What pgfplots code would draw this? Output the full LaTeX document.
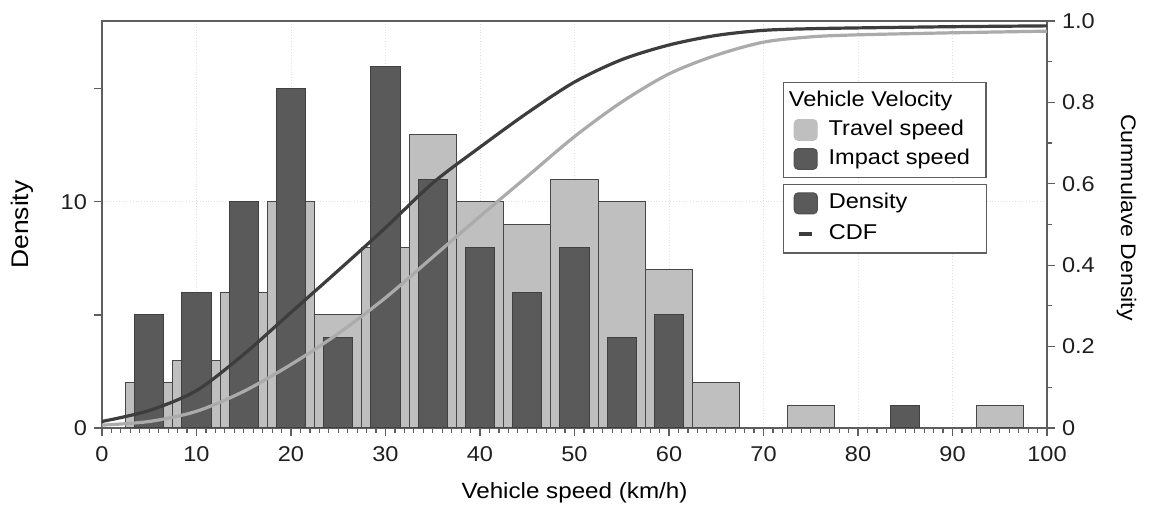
\documentclass[border=0pt]{standalone}
\usepackage{fontspec}
\setmainfont{Liberation Sans}[FakeStretch=1.1]
\usepackage{pgfplots}
\pgfplotsset{compat=1.18}
\definecolor{lightbar}{HTML}{BFBFBF}
\definecolor{darkbar}{HTML}{5A5A5A}
\definecolor{baredge}{HTML}{474747}
\definecolor{lightline}{HTML}{ABABAB}
\definecolor{darkline}{HTML}{3D3D3D}
\definecolor{axisgray}{HTML}{5E5E5E}
\newcommand{\tickfont}{\fontsize{10.7}{12}\selectfont}
\newcommand{\legfont}{\fontsize{10.7}{12}\selectfont}
\pgfplotsset{
  common/.style={
    scale only axis, width=472.5pt, height=203.5pt,
    xmin=0, xmax=100,
    axis line style={-, draw=axisgray, line width=0.6pt},
    every tick/.style={axisgray, line width=0.6pt},
    tick align=outside,
    major tick length=4pt, minor tick length=2.4pt,
    /pgf/number format/assume math mode=true,
    tick label style={font=\tickfont, text=black!88},
    legend cell align=left,
  },
  legbox/.style={
    draw=axisgray, line width=0.6pt, fill=white,
    inner xsep=5.2pt, inner ysep=2.6pt,
    column sep=4pt,
    nodes={inner sep=1.5pt, text height=8pt, text depth=2.5pt, font=\legfont},
  },
  lightsq/.style={legend image code/.code={\draw[fill=lightbar, draw=lightbar, rounded corners=2pt] (0pt,-5.2pt) rectangle (11.5pt,5.2pt);}},
  darksq/.style={legend image code/.code={\draw[fill=darkbar, draw=darkbar!90!black, rounded corners=2pt] (0pt,-5.2pt) rectangle (11.5pt,5.2pt);}},
}
\begin{document}
\begin{tikzpicture}
\begin{axis}[
  common,
  name=main,
  ymin=0, ymax=18,
  xtick={0,10,...,100}, minor x tick num=9,
  ytick={0,10},
  extra y ticks={5,15}, extra y tick labels={}, extra y tick style={grid=none},
  xtick pos=bottom, ytick pos=left,
  xticklabel style={yshift=-1.8pt},
  grid=major, major grid style={densely dotted, black!12, line width=0.5pt},
  xlabel={Vehicle speed (km/h)}, ylabel={Density},
  xlabel style={font=\fontsize{11}{13}\selectfont, at={(axis description cs:0.5,-0.1597)}, anchor=center},
  ylabel style={font=\fontsize{12}{14}\selectfont, at={(axis description cs:-0.0842,0.5)}, anchor=center},
  legend style={legbox, at={(axis description cs:0.7203,0.8509)}, anchor=north west, row sep=1pt},
]
\addlegendimage{empty legend}
\addlegendentry{\makebox[72pt][l]{\hspace*{-19.9pt}Vehicle Velocity}}
% Travel speed histogram (bins of 5 km/h)
\addplot[ybar, bar width=5, bar shift=0pt, fill=lightbar, draw=baredge, line width=0.5pt, lightsq]
  coordinates {(5,2) (10,3) (15,6) (20,10) (25,5) (30,8) (35,13) (40,10) (45,9) (50,11) (55,10) (60,7) (65,2) (75,1) (95,1)};
\addlegendentry{\makebox[72pt][l]{Travel speed}}
% Impact speed histogram
\addplot[ybar, bar width=3.1, bar shift=0pt, fill=darkbar, draw=black!75, line width=0.5pt, darksq]
  coordinates {(5,5) (10,6) (15,10) (20,15) (25,4) (30,16) (35,11) (40,8) (45,6) (50,8) (55,4) (60,5) (85,1)};
\addlegendentry{\makebox[72pt][l]{Impact speed}}
\end{axis}
\begin{axis}[
  common,
  ymin=0, ymax=1,
  axis y line*=right, axis x line=none,
  ytick={0,0.2,0.4,0.6,0.8,1}, yticklabels={0,0.2,0.4,0.6,0.8,1.0},
  minor ytick={0.1,0.3,0.5,0.7,0.9},
  ylabel={Cummulave Density},
  ylabel style={font=\fontsize{10.5}{12}\selectfont, at={(axis description cs:1.0842,0.517)}, anchor=center, rotate=180},
  legend style={legbox, at={(axis description cs:0.7203,0.5995)}, anchor=north west, row sep=2pt},
]
\addlegendimage{darksq}
\addlegendentry{\makebox[72pt][l]{Density}}
\addlegendimage{legend image code/.code={\draw[darkline, line width=1.8pt] (2.6pt,0pt) -- (8.9pt,0pt);}}
\addlegendentry{\makebox[72pt][l]{CDF}}
% CDF of travel speed
\addplot[lightline, line width=1.6pt, smooth, forget plot] coordinates {
 (0,0.007) (5,0.016) (10,0.041) (15,0.090) (20,0.156) (25,0.232) (30,0.320) (35,0.420)
 (40,0.520) (45,0.618) (50,0.716) (55,0.801) (60,0.870) (65,0.916) (70,0.948) (75,0.961)
 (80,0.966) (90,0.971) (100,0.975)};
% CDF of impact speed
\addplot[darkline, line width=1.6pt, smooth, forget plot] coordinates {
 (0,0.016) (5,0.043) (10,0.092) (15,0.181) (20,0.284) (25,0.387) (30,0.492) (35,0.602)
 (40,0.690) (45,0.774) (50,0.850) (55,0.905) (60,0.941) (65,0.9645) (70,0.977) (75,0.981)
 (80,0.983) (90,0.986) (100,0.988)};
\end{axis}
\pgfresetboundingbox
\path (main.south west) ++(-51pt,-39pt) rectangle ++(575.5pt,253pt);
\end{tikzpicture}
\end{document}
